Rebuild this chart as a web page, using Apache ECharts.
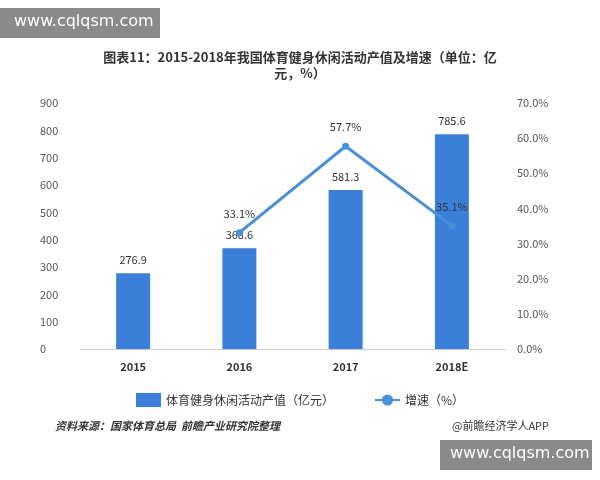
<!DOCTYPE html>
<html><head><meta charset="utf-8">
<script src="https://cdn.jsdelivr.net/npm/echarts@6/dist/echarts.min.js"></script>
<style>html,body{margin:0;padding:0;background:#fff}#c{width:600px;height:480px}</style>
</head><body><div id="c"></div>
<script>
const categories = ['2015','2016','2017','2018E'];
const outputValues = [276.9, 368.6, 581.3, 785.6];
const growthRates = [null, 33.1, 57.7, 35.1];
const chart = echarts.init(document.getElementById('c'));
const F = 'Noto Sans CJK SC';
chart.setOption({
  textStyle:{fontFamily:F},
  title:{text:'图表11：2015-2018年我国体育健身休闲活动产值及增速（单位：亿\n元，%）',left:'center',top:44,
    textStyle:{fontSize:13,fontWeight:'bold',color:'#333',lineHeight:16,fontFamily:F}},
  grid:{left:80,right:95,top:103,bottom:131},
  legend:{bottom:68,left:'center',itemGap:40,textStyle:{fontSize:12,color:'#333'},
    data:[{name:'体育健身休闲活动产值（亿元）',icon:'rect'},{name:'增速（%）'}]},
  xAxis:{type:'category',data:categories,axisTick:{show:false},
    axisLine:{lineStyle:{color:'#ccc'}},axisLabel:{color:'#333',fontWeight:'bold',fontSize:11,margin:12}},
  yAxis:[
    {type:'value',min:0,max:900,interval:100,splitLine:{show:false},axisLine:{show:false},axisTick:{show:false},
      axisLabel:{color:'#555',fontSize:11,margin:40,align:'left'}},
    {type:'value',min:0,max:70,interval:10,splitLine:{show:false},axisLine:{show:false},axisTick:{show:false},
      axisLabel:{color:'#555',fontSize:11,formatter:v=>v.toFixed(1)+'%',margin:12}}
  ],
  series:[
    {name:'体育健身休闲活动产值（亿元）',type:'bar',data:outputValues,barWidth:34,
      itemStyle:{color:'#3c7fd8'},
      label:{show:true,position:'top',color:'#333',fontSize:11,distance:8}},
    {name:'增速（%）',type:'line',yAxisIndex:1,data:growthRates,symbol:'circle',symbolSize:7,
      lineStyle:{color:'#4a90d9',width:3},itemStyle:{color:'#4a90d9'},
      label:{show:true,color:'#333',fontSize:11,formatter:p=>p.value+'%',position:'top',distance:10}}
  ],
  graphic:[
    {type:'rect',left:0,top:8,shape:{width:160,height:30},style:{fill:'#8a8a8a'}},
    {type:'text',left:14,top:14,style:{text:'www.cqlqsm.com',fill:'#fff',font:'16px "DejaVu Sans"'}},
    {type:'rect',left:440,top:440,shape:{width:152,height:30},style:{fill:'#8a8a8a'}},
    {type:'text',left:450,top:446,style:{text:'www.cqlqsm.com',fill:'#fff',font:'16px "DejaVu Sans"'}},
    {type:'text',left:55,top:420,style:{text:'资料来源：国家体育总局  前瞻产业研究院整理',fill:'#333',font:'italic bold 11px "Noto Sans CJK SC"'}},
    {type:'text',left:452,top:420,style:{text:'@前瞻经济学人APP',fill:'#333',font:'11px "Noto Sans CJK SC"'}}
  ]
});
</script></body></html>
